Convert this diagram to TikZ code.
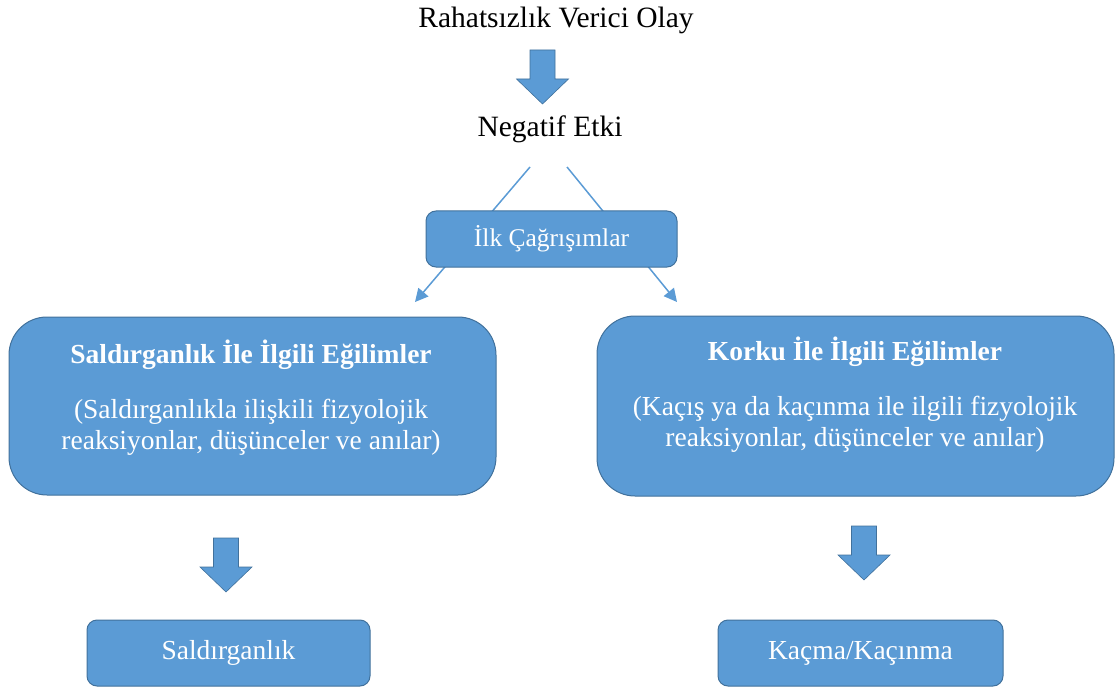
\documentclass[tikz,border=0pt]{standalone}
\usepackage{fontspec}
\setmainfont{Liberation Serif}
\usetikzlibrary{arrows.meta}
\definecolor{boxfill}{HTML}{5B9BD5}
\definecolor{boxline}{HTML}{41719C}
\begin{document}
\begin{tikzpicture}[x=1pt,y=-1pt,
  plain/.style={font=\fontsize{29.5}{34}\selectfont, inner sep=0pt},
  smallbox/.style={draw=boxline, line width=1pt, fill=boxfill, rounded corners=10pt,
    text=white, font=\fontsize{27.5}{32}\selectfont, inner sep=0pt},
  bigbox/.style={draw=boxline, line width=1pt, fill=boxfill, rounded corners=38pt, inner sep=0pt},
  boxtext/.style={text=white, align=center, font=\fontsize{27.5}{31}\selectfont, inner sep=0pt},
  link/.style={draw=boxfill, line width=1.5pt, -{Triangle[length=13pt,width=13pt]}},
  blockarrow/.style={fill=boxfill, draw=boxline, line width=0.6pt},
  downarrow/.pic={\path[blockarrow] (-12.5,0) -- (12.5,0) -- (12.5,29) -- (26,29)
    -- (0,54) -- (-26,29) -- (-12.5,29) -- cycle;}
]
\useasboundingbox (0,0) rectangle (1116,687);

% top of the chain
\node[plain] (event) at (556,20) {Rahatsızlık Verici Olay};
\pic at (542.5,50) {downarrow};
\node[plain] (neg) at (550,129) {Negatif Etki};

% two branches passing behind the first-associations box
\coordinate (negL) at (530,167);
\coordinate (negR) at (567,167);
\coordinate (tipL) at (415,302);
\coordinate (tipR) at (677,302);
\draw[link] (negL) -- (tipL);
\draw[link] (negR) -- (tipR);

\node[smallbox, minimum width=251pt, minimum height=56pt,
  font=\fontsize{25.5}{30}\selectfont] (assoc) at (551.5,239) {İlk Çağrışımlar};

% tendency boxes
\node[bigbox, minimum width=487pt, minimum height=178pt] (aggbox) at (252.5,406) {};
\node[boxtext] (aggtext) at (251,398) {\textbf{Saldırganlık İle İlgili Eğilimler}\\[24pt]
  (Saldırganlıkla ilişkili fizyolojik\\reaksiyonlar, düşünceler ve anılar)};

\node[bigbox, minimum width=517pt, minimum height=180pt] (fearbox) at (855.5,406) {};
\node[boxtext] (feartext) at (855,395) {\textbf{Korku İle İlgili Eğilimler}\\[24pt]
  (Kaçış ya da kaçınma ile ilgili fizyolojik\\reaksiyonlar, düşünceler ve anılar)};

% outcomes
\pic at (226,538) {downarrow};
\pic at (864,526) {downarrow};
\node[smallbox, minimum width=283pt, minimum height=66pt] (agg) at (228.5,653) {Saldırganlık};
\node[smallbox, minimum width=285pt, minimum height=66pt] (flee) at (860.5,653) {Kaçma/Kaçınma};
\end{tikzpicture}
\end{document}
